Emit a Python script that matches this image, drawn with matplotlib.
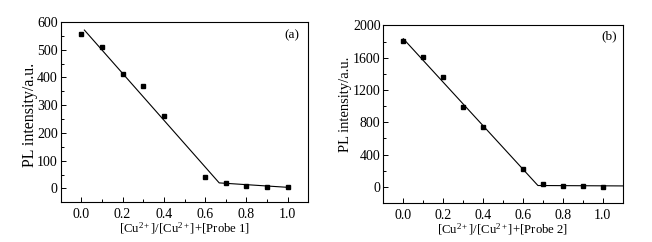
import matplotlib
matplotlib.use("Agg")
import matplotlib.pyplot as plt
from matplotlib.ticker import MultipleLocator

plt.rcParams["font.family"] = ["Liberation Serif", "DejaVu Serif"]
plt.rcParams["mathtext.fontset"] = "custom"
plt.rcParams["mathtext.rm"] = "Liberation Serif"
plt.rcParams["mathtext.it"] = "Liberation Serif:italic"

# 数据 (a)
x_a = [0.0, 0.1, 0.2, 0.3, 0.4, 0.6, 0.7, 0.8, 0.9, 1.0]
y_a = [556, 509, 414, 370, 261, 41, 18, 10, 6, 4]
fit_x_a = [0.015, 0.668, 1.0]
fit_y_a = [571, 20, 4]

# 数据 (b)
x_b = [0.0, 0.1, 0.2, 0.3, 0.4, 0.6, 0.7, 0.8, 0.9, 1.0]
y_b = [1810, 1607, 1359, 988, 740, 223, 33, 17, 8, 0]
fit_x_b = [0.0, 0.675, 1.1]
fit_y_b = [1835, 17, 12]

xticks = [0.0, 0.2, 0.4, 0.6, 0.8, 1.0]


def style_ax(ax, ymin, ymax, ymajor, label, tag, tag_xy, ylab_size, ylab_xy):
    ax.set_xlim(-0.1, 1.1)
    ax.set_ylim(ymin, ymax)
    ax.set_xticks(xticks)
    ax.set_xticklabels(["%.1f" % v for v in xticks])
    ax.xaxis.set_minor_locator(MultipleLocator(0.1))
    ax.yaxis.set_major_locator(MultipleLocator(ymajor))
    ax.yaxis.set_minor_locator(MultipleLocator(ymajor / 2))
    ax.tick_params(which="both", direction="in", labelsize=10)
    ax.tick_params(axis="y", pad=2)
    ax.tick_params(axis="x", pad=4)
    ax.tick_params(which="major", length=3.5, width=0.7)
    ax.tick_params(which="minor", length=2, width=0.7)
    for s in ax.spines.values():
        s.set_linewidth(0.8)
    ax.set_xlabel(label, fontsize=9.2, labelpad=0)
    ax.set_ylabel("PL intensity/a.u.", fontsize=ylab_size)
    ax.yaxis.set_label_coords(*ylab_xy)
    ax.text(tag_xy[0], tag_xy[1], tag, transform=ax.transAxes,
            ha="right", va="center", fontsize=9.5)


fig = plt.figure(figsize=(6.52, 2.42), dpi=100)
ax1 = fig.add_axes([0.093, 0.164, 0.380, 0.745])
ax2 = fig.add_axes([0.588, 0.161, 0.367, 0.734])

ax1.plot(fit_x_a, fit_y_a, color="black", lw=0.8)
ax1.plot(x_a, y_a, "s", color="black", ms=3)
style_ax(ax1, -50, 600, 100, r"[Cu$^{\mathrm{2+}}$]/[Cu$^{\mathrm{2+}}$]+[Probe 1]",
         "(a)", (0.962, 0.928), 11.5, (-0.09, 0.487))

ax2.plot(fit_x_b, fit_y_b, color="black", lw=0.8)
ax2.plot(x_b, y_b, "s", color="black", ms=3)
style_ax(ax2, -200, 2000, 400, r"[Cu$^{\mathrm{2+}}$]/[Cu$^{\mathrm{2+}}$]+[Probe 2]",
         "(b)", (0.975, 0.94), 10.5, (-0.13, 0.558))

fig.savefig("out.png", dpi=100)
